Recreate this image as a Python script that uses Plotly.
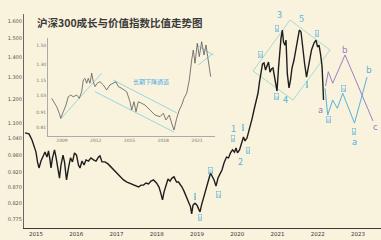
import numpy as np
import plotly.graph_objects as go

# ---------------- data ----------------
main_year = [2014.727, 2014.826, 2014.901, 2014.950, 2015.000, 2015.037, 2015.075, 2015.124, 2015.174, 2015.224,
             2015.273, 2015.311, 2015.348, 2015.373, 2015.410, 2015.460, 2015.497, 2015.547, 2015.584, 2015.621,
             2015.671, 2015.708, 2015.758, 2015.807, 2015.857, 2015.907, 2015.957, 2016.006, 2016.056, 2016.093,
             2016.143, 2016.193, 2016.242, 2016.304, 2016.366, 2016.429, 2016.491, 2016.553, 2016.590, 2016.640,
             2016.714, 2016.789, 2016.839, 2016.913, 2017.000, 2017.087, 2017.174, 2017.261, 2017.360, 2017.460,
             2017.547, 2017.609, 2017.671, 2017.733, 2017.795, 2017.857, 2017.919, 2017.994, 2018.056, 2018.093,
             2018.143, 2018.180, 2018.217, 2018.280, 2018.329, 2018.379, 2018.429, 2018.491, 2018.540, 2018.578,
             2018.627, 2018.677, 2018.739, 2018.801, 2018.839, 2018.868, 2018.901, 2018.950, 2019.000, 2019.050,
             2019.075, 2019.112, 2019.149, 2019.199, 2019.249, 2019.298, 2019.336, 2019.373, 2019.423, 2019.472,
             2019.522, 2019.572, 2019.621, 2019.671, 2019.733, 2019.783, 2019.832, 2019.882, 2019.932, 2019.969,
             2020.006, 2020.056, 2020.106, 2020.155, 2020.193, 2020.242, 2020.280, 2020.317, 2020.366, 2020.416,
             2020.466, 2020.516, 2020.553, 2020.590, 2020.627, 2020.665, 2020.702, 2020.739, 2020.776, 2020.814,
             2020.851, 2020.888, 2020.925, 2020.963, 2020.988, 2021.025, 2021.062, 2021.087, 2021.120, 2021.149,
             2021.186, 2021.211, 2021.244, 2021.286, 2021.323, 2021.360, 2021.410, 2021.460, 2021.497, 2021.542,
             2021.584, 2021.621, 2021.671, 2021.721, 2021.758, 2021.795, 2021.845, 2021.907, 2021.957, 2021.994,
             2022.031, 2022.068, 2022.106, 2022.130, 2022.143]
main_ratio = [1.062, 1.058, 1.035, 1.016, 0.990, 0.955, 0.934, 0.958, 0.976, 0.990,
              0.972, 0.994, 0.962, 0.934, 0.969, 0.998, 0.972, 0.920, 0.900, 0.944,
              0.979, 0.955, 0.894, 0.934, 0.969, 0.955, 0.987, 0.979, 0.944, 0.934,
              0.958, 0.944, 0.962, 0.958, 0.969, 0.962, 0.958, 0.972, 0.976, 0.955,
              0.955, 0.948, 0.941, 0.930, 0.917, 0.904, 0.894, 0.887, 0.881, 0.874,
              0.871, 0.877, 0.877, 0.884, 0.881, 0.890, 0.894, 0.884, 0.871, 0.855,
              0.831, 0.855, 0.874, 0.897, 0.890, 0.900, 0.904, 0.887, 0.887, 0.881,
              0.871, 0.858, 0.840, 0.824, 0.810, 0.789, 0.815, 0.821, 0.815, 0.801,
              0.795, 0.815, 0.831, 0.855, 0.877, 0.900, 0.917, 0.907, 0.894, 0.874,
              0.900, 0.914, 0.927, 0.951, 0.972, 0.969, 0.987, 0.998, 0.990, 1.005,
              0.987, 0.998, 1.027, 1.046, 1.031, 1.042, 1.065, 1.085, 1.117, 1.155,
              1.189, 1.229, 1.280, 1.327, 1.367, 1.372, 1.337, 1.357, 1.377, 1.327,
              1.342, 1.347, 1.298, 1.252, 1.238, 1.347, 1.449, 1.503, 1.548, 1.482,
              1.465, 1.492, 1.318, 1.252, 1.289, 1.347, 1.387, 1.439, 1.482, 1.548,
              1.537, 1.449, 1.372, 1.303, 1.347, 1.387, 1.439, 1.476, 1.492, 1.455,
              1.465, 1.418, 1.357, 1.256, 1.198]

proj_blue_year = [2022.180, 2022.247, 2022.371, 2022.486, 2022.620, 2022.913, 2023.224]
proj_blue_ratio = [1.250, 1.134, 1.198, 1.162, 1.228, 1.101, 1.303]
proj_purple_year = [2022.193, 2022.262, 2022.371, 2022.677, 2023.373]
proj_purple_ratio = [1.261, 1.329, 1.274, 1.413, 1.109]

channel_year = [2020.391, 2021.311, 2022.304, 2021.385, 2020.391]
channel_ratio = [1.332, 1.606, 1.439, 1.198, 1.332]

wave_num_text = ["1", "2", "3", "4", "5"]
wave_num_year = [2019.895, 2020.068, 2021.037, 2021.186, 2021.601]
wave_num_ratio = [1.081, 0.958, 1.636, 1.202, 1.612]

abc_blue_text = ["a", "b"]
abc_blue_year = [2022.908, 2023.273]
abc_blue_ratio = [1.028, 1.342]
abc_purple_text = ["a", "b", "c"]
abc_purple_year = [2022.056, 2022.677, 2023.435]
abc_purple_ratio = [1.155, 1.439, 1.089]

roman_text = ["i", "ii", "iii", "iv", "v", "i", "ii", "iii", "iv", "v",
              "i", "ii", "iii", "iv", "v"]
roman_year = [2018.950, 2019.075, 2019.323, 2019.530, 2019.894, 2020.143, 2020.260, 2020.565, 2020.963, 2020.995,
              2021.726, 2021.974, 2022.262, 2022.635, 2022.908]
roman_ratio = [0.841, 0.780, 0.927, 0.846, 1.040, 1.085, 0.995, 1.413, 1.212, 1.558,
               1.266, 1.529, 1.117, 1.250, 1.069]

main_ytick_vals = [1.600, 1.500, 1.400, 1.300, 1.200, 1.100, 1.040, 0.980, 0.920, 0.870, 0.820, 0.775]
main_xtick_years = [2015, 2016, 2017, 2018, 2019, 2020, 2021, 2022, 2023]

inset_year = [2008.084, 2008.289, 2008.529, 2008.760, 2008.884, 2009.116, 2009.356, 2009.560, 2009.773, 2010.004,
              2010.307, 2010.538, 2010.751, 2010.893, 2011.044, 2011.196, 2011.338, 2011.489, 2011.640, 2011.782,
              2011.933, 2012.138, 2012.378, 2012.671, 2012.973, 2013.267, 2013.560, 2013.800, 2014.004, 2014.307,
              2014.751, 2015.044, 2015.196, 2015.400, 2015.578, 2015.782, 2016.084, 2016.378, 2016.822, 2017.267,
              2017.711, 2018.004, 2018.244, 2018.538, 2018.751, 2018.956, 2019.196, 2019.427, 2019.640, 2019.844,
              2020.084, 2020.316, 2020.529, 2020.671, 2020.822, 2021.027, 2021.204, 2021.418, 2021.622, 2021.800,
              2021.951, 2022.093, 2022.218]
inset_ratio = [1.008, 0.983, 0.947, 0.902, 0.869, 0.912, 0.959, 1.020, 1.033, 1.020,
               1.033, 1.008, 1.059, 1.156, 1.170, 1.128, 1.170, 1.128, 1.215, 1.141,
               1.100, 1.128, 1.141, 1.114, 1.073, 1.114, 1.128, 1.141, 1.100, 1.086,
               1.059, 0.983, 0.924, 0.983, 0.912, 0.983, 0.971, 0.959, 0.924, 0.890,
               0.879, 0.902, 0.858, 0.890, 0.837, 0.796, 0.869, 0.924, 0.959, 1.008,
               1.047, 1.156, 1.341, 1.445, 1.309, 1.519, 1.375, 1.537, 1.392, 1.500,
               1.375, 1.276, 1.184]

inset_rise_year = [2008.884, 2012.529]
inset_rise_ratio = [0.864, 1.215]
inset_upper_year = [2013.533, 2019.222]
inset_upper_ratio = [1.156, 0.904]
inset_lower_year = [2011.933, 2018.956]
inset_lower_ratio = [1.059, 0.784]
inset_wedge_a_year = [2020.973, 2022.449]
inset_wedge_a_ratio = [1.500, 1.392]
inset_wedge_b_year = [2021.116, 2022.449]
inset_wedge_b_ratio = [1.292, 1.410]

inset_ytick_vals = [1.50, 1.30, 1.15, 1.03, 0.91, 0.81]
inset_xtick_years = [2009, 2012, 2015, 2018, 2021]

# ---------------- styles ----------------
BG = "#f9f2dc"
BLUE = "#55b2dc"
TEAL = "#a6dccf"
PURPLE = "#9a80c6"
LINE = "#1e1e1e"
FONT = "Noto Sans CJK SC"

fig = go.Figure()

fig.add_trace(go.Scatter(x=channel_year, y=channel_ratio, mode="lines",
                         line=dict(color=TEAL, width=1), xaxis="x", yaxis="y", hoverinfo="skip"))
fig.add_trace(go.Scatter(x=main_year, y=main_ratio, mode="lines",
                         line=dict(color=LINE, width=1.4), xaxis="x", yaxis="y"))
fig.add_trace(go.Scatter(x=proj_purple_year, y=proj_purple_ratio, mode="lines",
                         line=dict(color=PURPLE, width=1), xaxis="x", yaxis="y"))
fig.add_trace(go.Scatter(x=proj_blue_year, y=proj_blue_ratio, mode="lines",
                         line=dict(color=BLUE, width=1), xaxis="x", yaxis="y"))

# inset
for yy, rr in [(inset_rise_year, inset_rise_ratio), (inset_upper_year, inset_upper_ratio),
               (inset_lower_year, inset_lower_ratio), (inset_wedge_a_year, inset_wedge_a_ratio),
               (inset_wedge_b_year, inset_wedge_b_ratio)]:
    fig.add_trace(go.Scatter(x=yy, y=rr, mode="lines", line=dict(color="#8fd3e3", width=0.9),
                             xaxis="x2", yaxis="y2", hoverinfo="skip"))
fig.add_trace(go.Scatter(x=inset_year, y=inset_ratio, mode="lines",
                         line=dict(color="#5a5a5a", width=0.8), xaxis="x2", yaxis="y2"))

annotations = []
for t, x, y in zip(wave_num_text, wave_num_year, wave_num_ratio):
    annotations.append(dict(x=x, y=np.log10(y), xref="x", yref="y", text=t, showarrow=False,
                            font=dict(family=FONT, size=9, color=BLUE)))
for t, x, y in zip(abc_blue_text, abc_blue_year, abc_blue_ratio):
    annotations.append(dict(x=x, y=np.log10(y), xref="x", yref="y", text=t, showarrow=False,
                            font=dict(family=FONT, size=9, color=BLUE)))
for t, x, y in zip(abc_purple_text, abc_purple_year, abc_purple_ratio):
    annotations.append(dict(x=x, y=np.log10(y), xref="x", yref="y", text=t, showarrow=False,
                            font=dict(family=FONT, size=9, color=PURPLE)))
for t, x, y in zip(roman_text, roman_year, roman_ratio):
    annotations.append(dict(x=x, y=np.log10(y), xref="x", yref="y", text=t, showarrow=False,
                            font=dict(family="DejaVu Sans", size=5, color=BLUE),
                            bordercolor=BLUE, borderwidth=0.5, borderpad=0))

annotations.append(dict(x=0.0308, y=0.9626, xref="paper", yref="paper", xanchor="left", yanchor="middle",
                        text="<b>沪深300成长与价值指数比值走势图</b>", showarrow=False,
                        font=dict(family=FONT, size=10.5, color="#3a3a3a")))
annotations.append(dict(x=2016.9, y=np.log10(1.141), xref="x2", yref="y2", text="长期下降通道",
                        showarrow=False, font=dict(family=FONT, size=6, color="#4aaee6")))

fig.update_layout(
    width=381, height=240,
    margin=dict(l=24, r=0, t=14, b=12),
    paper_bgcolor=BG, plot_bgcolor=BG,
    showlegend=False,
    annotations=annotations,
    xaxis=dict(range=[2014.702, 2023.571], tickvals=main_xtick_years,
               ticktext=[str(v) for v in main_xtick_years], showgrid=False, zeroline=False,
               showline=True, linecolor="#3a3a3a", linewidth=1, ticks="",
               tickfont=dict(family="DejaVu Sans", size=5.5, color="#333333")),
    yaxis=dict(type="log", range=[-0.1252, 0.2153], tickvals=main_ytick_vals,
               ticktext=[f"{v:.3f}" for v in main_ytick_vals], showgrid=False, zeroline=False,
               showline=True, linecolor="#666666", linewidth=1, ticks="",
               tickfont=dict(family="DejaVu Sans", size=5, color="#555555")),
    xaxis2=dict(domain=[0.0672, 0.535], anchor="y2", range=[2007.756, 2022.6],
                tickvals=inset_xtick_years, ticktext=[str(v) for v in inset_xtick_years],
                showgrid=False, zeroline=False, showline=True, linecolor="#aaaaaa", linewidth=0.8,
                ticks="", tickfont=dict(family="DejaVu Sans", size=4.5, color="#777777")),
    yaxis2=dict(domain=[0.430, 0.888], anchor="x2", type="log", range=[-0.1184, 0.1988],
                tickvals=inset_ytick_vals, ticktext=[f"{v:.2f}" for v in inset_ytick_vals],
                showgrid=False, zeroline=False, showline=True, linecolor="#aaaaaa", linewidth=0.8,
                ticks="", tickfont=dict(family="DejaVu Sans", size=4.5, color="#777777")),
)

fig.write_html("out.html")
